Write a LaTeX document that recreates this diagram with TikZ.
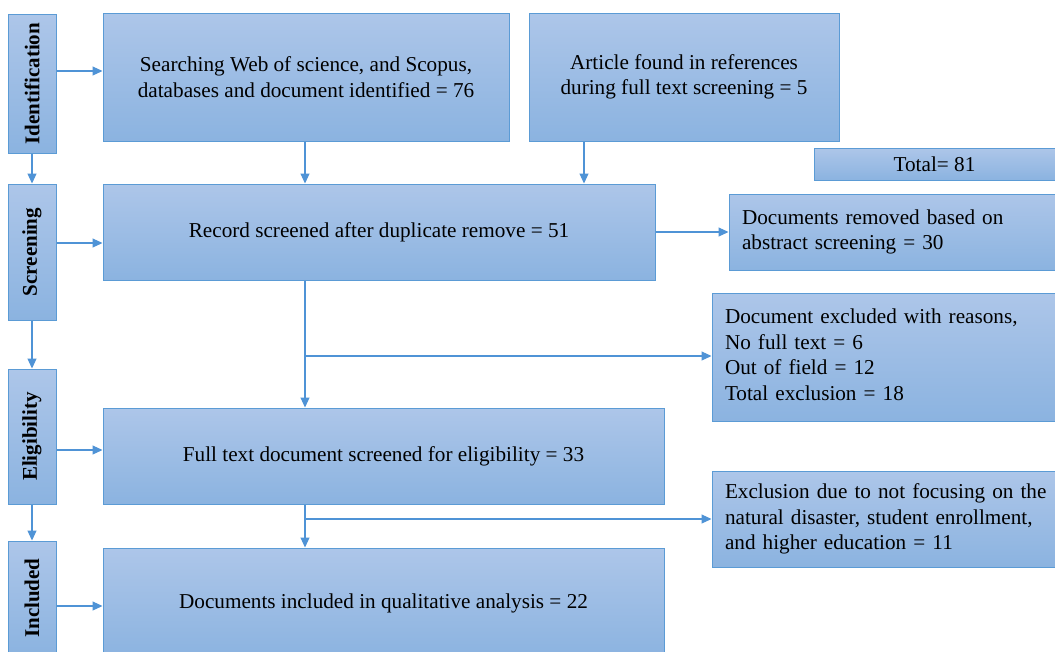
\documentclass[tikz,border=0pt]{standalone}
\usepackage{fontspec}
\setmainfont{Liberation Serif}
\usetikzlibrary{arrows.meta}
\definecolor{boxtop}{HTML}{ADC6E9}
\definecolor{boxbot}{HTML}{8BB3E0}
\definecolor{boxline}{HTML}{5B9BD5}
\definecolor{arrline}{HTML}{4F93D6}
\newcommand{\lefttext}[1]{\begin{tabular}{@{}l@{}}#1\end{tabular}}
\tikzset{
  box/.style={draw=boxline, line width=1pt, top color=boxtop, bottom color=boxbot, rectangle, inner sep=0pt,
    font=\fontsize{21.2}{25.5}\selectfont, align=center},
  lbox/.style={box, align=left, inner xsep=13pt},
  stage/.style={box, minimum width=48pt, font=\fontsize{21}{24}\selectfont\bfseries},
  arr/.style={draw=arrline, line width=1.1pt, -{Triangle[length=10pt,width=9pt]}},
  ln/.style={draw=arrline, line width=1.1pt}
}
\begin{document}
\begin{tikzpicture}[x=1pt,y=-1pt]
\clip (0,0) rectangle (1055,651);
\fill[white] (0,0) rectangle (1055,651);
% stage boxes
\node[stage, minimum height=139pt] (ident) at (32,83.5) {\rotatebox{90}{Identification}};
\node[stage, minimum height=136pt] (screen) at (32,252) {\rotatebox{90}{Screening}};
\node[stage, minimum height=135pt] (elig) at (32,436.5) {\rotatebox{90}{Eligibility}};
\node[stage, minimum height=114pt] (incl) at (32,598) {\rotatebox{90}{Included}};
% main boxes
\node[box, minimum width=406pt, minimum height=128pt] (search) at (306,77)
  {Searching Web of science, and Scopus,\\databases and document identified = 76};
\node[box, minimum width=310pt, minimum height=128pt] (article) at (684,77)
  {Article found in references\\during full text screening = 5};
\node[box, minimum width=241pt, minimum height=32pt] (total) at (934.5,164) {Total= 81};
\node[box, minimum width=552pt, minimum height=96pt] (record) at (379,232)
  {Record screened after duplicate remove = 51};
\node[lbox, text width=300pt, minimum width=326pt, minimum height=76pt] (removed) at (892,232)
  {\lefttext{Documents removed based on\\abstract screening = 30}};
\node[lbox, text width=317pt, minimum width=343pt, minimum height=128pt] (excluded) at (883.5,357)
  {\lefttext{Document excluded with reasons,\\No full text = 6\\Out of field = 12\\Total exclusion = 18}};
\node[box, minimum width=561pt, minimum height=96pt] (full) at (383.5,456)
  {Full text document screened for eligibility = 33};
\node[lbox, text width=317pt, minimum width=343pt, minimum height=96pt] (exclusion) at (883.5,519)
  {\lefttext{Exclusion due to not focusing on the\\natural disaster, student enrollment,\\and higher education = 11}};
\node[box, minimum width=561pt, minimum height=110pt] (included) at (383.5,603)
  {Documents included in qualitative analysis = 22};
% stage arrows
\draw[arr] (ident.south) -- (screen.north);
\draw[arr] (screen.south) -- (elig.north);
\draw[arr] (elig.south) -- (incl.north);
\draw[arr] (ident.east |- 0,71) -- (search.west |- 0,71);
\draw[arr] (screen.east |- 0,243) -- (record.west |- 0,243);
\draw[arr] (elig.east |- 0,450) -- (full.west |- 0,450);
\draw[arr] (incl.east |- 0,606) -- (included.west |- 0,606);
% flow arrows
\draw[arr] (search.south -| 305,0) -- (record.north -| 305,0);
\draw[arr] (article.south -| 584,0) -- (record.north -| 584,0);
\draw[arr] (record.east) -- (removed.west);
\coordinate (b1) at (305,356);
\draw[arr] (record.south -| b1) -- (full.north -| b1);
\draw[arr] (b1) -- (excluded.west |- b1);
\coordinate (b2) at (305,519);
\draw[arr] (full.south -| b2) -- (included.north -| b2);
\draw[arr] (b2) -- (exclusion.west |- b2);
\end{tikzpicture}
\end{document}
